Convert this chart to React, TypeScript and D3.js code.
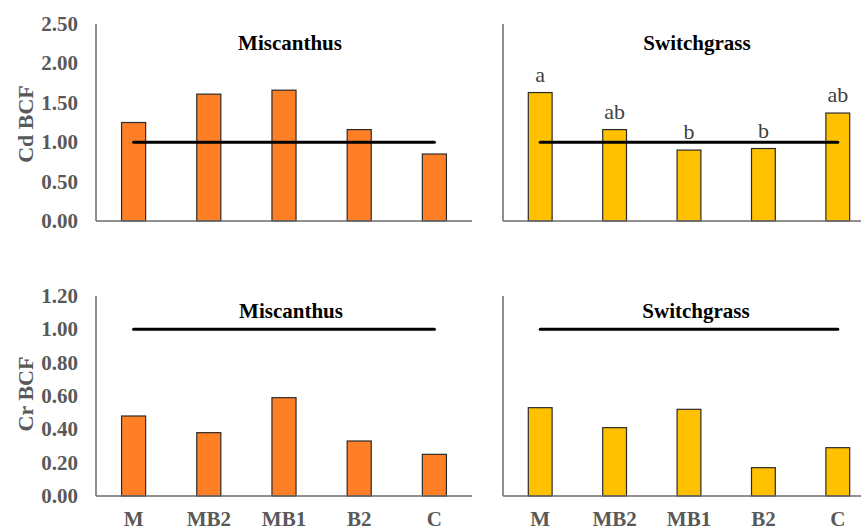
import React from "react";
import * as d3 from "d3";

const categories = ["M", "MB2", "MB1", "B2", "C"];
const cdMiscanthus = [1.25, 1.61, 1.66, 1.16, 0.85];
const cdSwitchgrass = [1.63, 1.16, 0.9, 0.92, 1.37];
const cdSwitchLetters = ["a", "ab", "b", "b", "ab"];
const crMiscanthus = [0.48, 0.38, 0.59, 0.33, 0.25];
const crSwitchgrass = [0.53, 0.41, 0.52, 0.17, 0.29];
const cdTicks = [0, 0.5, 1, 1.5, 2, 2.5];
const crTicks = [0, 0.2, 0.4, 0.6, 0.8, 1.0, 1.2];
const refValue = 1.0;

const W = 861;
const H = 530;
const FONT = "Liberation Serif, DejaVu Serif, serif";
const ORANGE = "#FF7F27";
const YELLOW = "#FFC000";
const AXIS = "#6b6b6b";
const LABEL = "#595959";

type PanelProps = {
  x0: number;
  x1: number;
  y: d3.ScaleLinear<number, number>;
  values: number[];
  color: string;
  title: string;
  titleX: number;
  titleY: number;
  letters?: string[];
  showXLabels?: boolean;
};

function Panel({ x0, x1, y, values, color, title, titleX, titleY, letters, showXLabels }: PanelProps) {
  const x = d3.scaleBand<string>().domain(categories).range([x0, x1]).paddingInner(0.68).paddingOuter(0.34);
  const base = y(0);
  const top = y(y.domain()[1]);
  const c0 = (x(categories[0]) ?? 0) + x.bandwidth() / 2;
  const c1 = (x(categories[categories.length - 1]) ?? 0) + x.bandwidth() / 2;
  return (
    <g>
      {values.map((v, i) => (
        <rect
          key={i}
          x={x(categories[i])}
          y={y(v)}
          width={x.bandwidth()}
          height={base - y(v)}
          fill={color}
          stroke="#2b2b2b"
          strokeWidth={1.2}
        />
      ))}
      <line x1={x0} x2={x0} y1={top} y2={base} stroke={AXIS} strokeWidth={1.5} />
      <line x1={x0} x2={Math.min(x1, W)} y1={base} y2={base} stroke={AXIS} strokeWidth={1.5} />
      <line x1={c0} x2={c1} y1={y(refValue)} y2={y(refValue)} stroke="#000" strokeWidth={3} strokeLinecap="round" />
      <text x={titleX} y={titleY} textAnchor="middle" fontFamily={FONT} fontWeight="bold" fontSize={21} fill="#000">
        {title}
      </text>
      {letters &&
        letters.map((l, i) => (
          <text
            key={i}
            x={(x(categories[i]) ?? 0) + x.bandwidth() / 2}
            y={y(values[i]) - 11}
            textAnchor="middle"
            fontFamily={FONT}
            fontSize={22}
            fill="#404040"
          >
            {l}
          </text>
        ))}
      {showXLabels &&
        categories.map((c, i) => (
          <text
            key={c}
            x={(x(c) ?? 0) + x.bandwidth() / 2}
            y={526}
            textAnchor="middle"
            fontFamily={FONT}
            fontWeight="bold"
            fontSize={21}
            fill={LABEL}
          >
            {c}
          </text>
        ))}
    </g>
  );
}

function YTicks({ y, ticks }: { y: d3.ScaleLinear<number, number>; ticks: number[] }) {
  const fmt = d3.format(".2f");
  return (
    <g>
      {ticks.map((t) => (
        <text
          key={t}
          x={78}
          y={y(t)}
          dy="0.33em"
          textAnchor="end"
          fontFamily={FONT}
          fontWeight="bold"
          fontSize={21}
          fill={LABEL}
        >
          {fmt(t)}
        </text>
      ))}
    </g>
  );
}

export default function App() {
  const yTop = d3.scaleLinear().domain([0, 2.5]).range([221, 24]);
  const yBot = d3.scaleLinear().domain([0, 1.2]).range([496, 296]);
  const leftX: [number, number] = [96, 472];
  const rightX: [number, number] = [503, 875];
  return (
    <svg
      width={W}
      height={H}
      viewBox={`0 0 ${W} ${H}`}
      style={{ position: "absolute", left: 0, top: 0, background: "#fff" }}
    >
      <rect x={0} y={0} width={W} height={H} fill="#fff" />
      <YTicks y={yTop} ticks={cdTicks} />
      <YTicks y={yBot} ticks={crTicks} />
      <text
        transform={`translate(33,124) rotate(-90)`}
        textAnchor="middle"
        fontFamily={FONT}
        fontWeight="bold"
        fontSize={22}
        fill={LABEL}
      >
        Cd BCF
      </text>
      <text
        transform={`translate(33,394) rotate(-90)`}
        textAnchor="middle"
        fontFamily={FONT}
        fontWeight="bold"
        fontSize={22}
        fill={LABEL}
      >
        Cr BCF
      </text>
      <Panel x0={leftX[0]} x1={leftX[1]} y={yTop} values={cdMiscanthus} color={ORANGE} title="Miscanthus" titleX={290} titleY={50} />
      <Panel
        x0={rightX[0]}
        x1={rightX[1]}
        y={yTop}
        values={cdSwitchgrass}
        color={YELLOW}
        title="Switchgrass"
        titleX={697}
        titleY={50}
        letters={cdSwitchLetters}
      />
      <Panel x0={leftX[0]} x1={leftX[1]} y={yBot} values={crMiscanthus} color={ORANGE} title="Miscanthus" titleX={291} titleY={318} showXLabels />
      <Panel
        x0={rightX[0]}
        x1={rightX[1]}
        y={yBot}
        values={crSwitchgrass}
        color={YELLOW}
        title="Switchgrass"
        titleX={696}
        titleY={318}
        showXLabels
      />
    </svg>
  );
}
